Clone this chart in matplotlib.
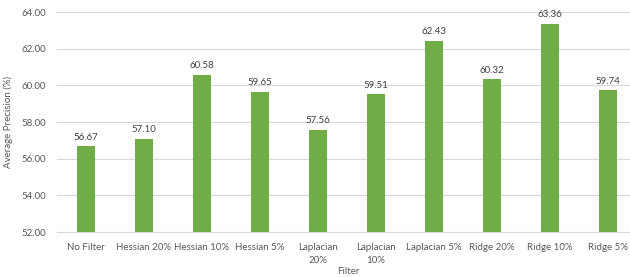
import numpy as np
import matplotlib.pyplot as plt

filters = ['No Filter', 'Hessian 20%', 'Hessian 10%', 'Hessian 5%', 'Laplacian\n20%',
           'Laplacian\n10%', 'Laplacian 5%', 'Ridge 20%', 'Ridge 10%', 'Ridge 5%']
precision = [56.67, 57.10, 60.58, 59.65, 57.56, 59.51, 62.43, 60.32, 63.36, 59.74]
yticks = [52, 54, 56, 58, 60, 62, 64]

plt.rcParams['font.family'] = ['Lato', 'DejaVu Sans']
fs = 7

fig = plt.figure(figsize=(6.3, 2.77), dpi=100)
ax = fig.add_axes([57/630, 45/277, 573/630, 220/277])

x = np.arange(len(filters))
ax.bar(x, precision, width=0.31, color='#70AD47', zorder=3)
for xi, v in zip(x, precision):
    ax.text(xi, v + 0.25, '{:.2f}'.format(v), ha='center', va='bottom',
            fontsize=fs, color='#404040')

ax.set_ylim(52, 64)
ax.set_xlim(-0.5, 9.38)
ax.set_yticks(yticks)
ax.set_yticklabels(['{:.2f}'.format(t) for t in yticks])
ax.set_xticks(x)
ax.set_xticklabels(filters, linespacing=1.6)
ax.tick_params(axis='both', length=0, labelsize=fs, labelcolor='#595959')
ax.tick_params(axis='x', pad=8)
ax.tick_params(axis='y', pad=8)
ax.grid(axis='y', color='#D9D9D9', linewidth=0.8, zorder=0)
for s in ['top', 'right', 'left']:
    ax.spines[s].set_visible(False)
ax.spines['bottom'].set_color('#D9D9D9')
ax.set_ylabel('Average Precision (%)', fontsize=fs, color='#595959', labelpad=6)
fig.text(348/630, 1 - 271/277, 'Filter', ha='center', va='center', fontsize=fs, color='#595959')

fig.savefig('out.png', dpi=100)
